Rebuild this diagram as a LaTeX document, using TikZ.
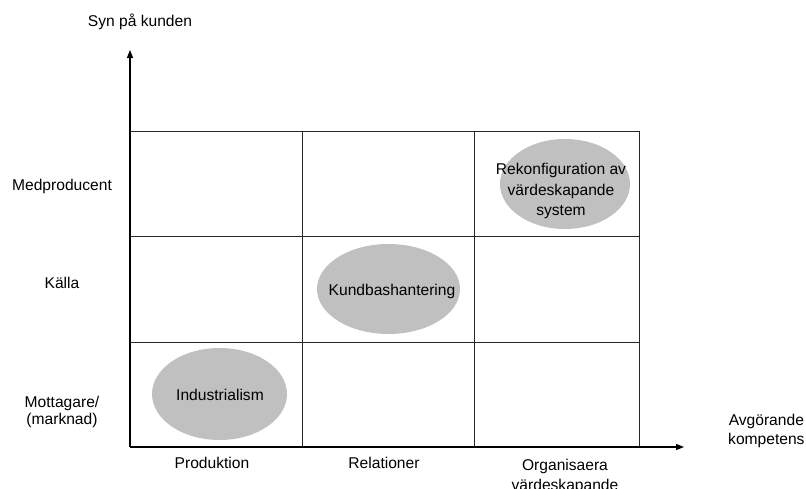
\documentclass[tikz,border=0pt]{standalone}
\usepackage{fontspec}
\setmainfont{Liberation Sans}
\usetikzlibrary{arrows.meta}
\definecolor{blobgray}{RGB}{192,192,192}
\begin{document}
\begin{tikzpicture}[x=1pt,y=-1pt,
  lbl/.style={font=\fontsize{15.6}{18.5}\selectfont, inner sep=0pt, align=center, anchor=base},
  blob/.style={fill=blobgray, draw=none},
  gridline/.style={line width=1pt, draw=black!85},
  axis/.style={line width=1.1pt, -{Triangle[length=8pt,width=6pt]}}
]
\useasboundingbox (0,0) rectangle (806,488);
% ellipses
\fill[blob] (219.5,394) ellipse [x radius=67.5, y radius=46];
\fill[blob] (388.5,289) ellipse [x radius=71.5, y radius=45];
\fill[blob] (565,184) ellipse [x radius=65, y radius=45];
% grid
\draw[gridline] (130,131) rectangle (639,447);
\draw[gridline] (302,131) -- (302,447);
\draw[gridline] (474,131) -- (474,447);
\draw[gridline] (130,236) -- (639,236);
\draw[gridline] (130,342) -- (639,342);
% axes
\coordinate (origin) at (130,447);
\coordinate (ytip) at (130,50);
\coordinate (xtip) at (684,447);
\draw[axis] (origin) -- (ytip);
\draw[axis] (origin) -- (xtip);
% texts (multi-line nodes: base = last line)
\node[lbl] (syn) at (140,26.5) {Syn på kunden};
\node[lbl] (med) at (62,190.5) {Medproducent};
\node[lbl] (kalla) at (62,288.5) {Källa};
\node[lbl, font=\fontsize{15.6}{17}\selectfont] (mott) at (62,424) {Mottagare/\\(marknad)};
\node[lbl, anchor=base west] (avg) at (728,444) {Avgörande\\kompetens};
\node[lbl] (prod) at (212,468.5) {Produktion};
\node[lbl] (rel) at (384,468.5) {Relationer};
\node[lbl, font=\fontsize{15.6}{19.5}\selectfont] (org) at (565,490) {Organisaera\\värdeskapande};
\node[lbl] (ind) at (220,400.5) {Industrialism};
\node[lbl] (kund) at (392,295.5) {Kundbashantering};
\node[lbl, font=\fontsize{15.6}{20.5}\selectfont] (rek) at (561,215.5) {Rekonfiguration av\\värdeskapande\\system};
\end{tikzpicture}
\end{document}
